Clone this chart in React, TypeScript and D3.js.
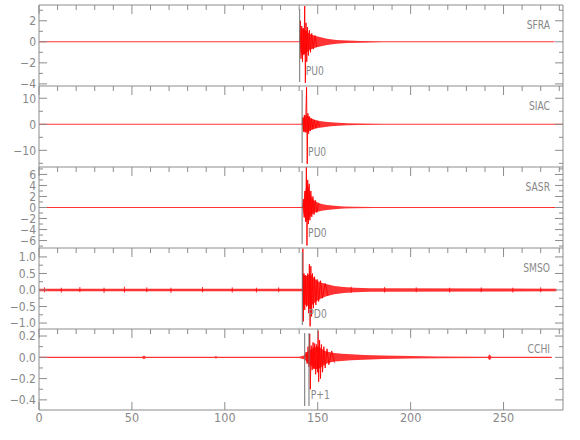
import React from 'react';
import * as d3 from 'd3';

// ---------------- DATA ----------------
const X_MAX = 282;
const xMajorTicks = [0, 50, 100, 150, 200, 250];
const xTickLabels = ['0', '50', '100', '150', '200', '250'];

const stationNames = ['SFRA', 'SIAC', 'SASR', 'SMSO', 'CCHI'];
const phaseLabels = ['PU0', 'PU0', 'PD0', 'PD0', 'P+1'];

// y domains (bottom, top)
const sfraDomain = [-4.2, 3.5];
const siacDomain = [-16.4, 14.7];
const sasrDomain = [-7.35, 7.35];
const smsoDomain = [-1.18, 1.27];
const cchiDomain = [-0.495, 0.266];

// y ticks
const sfraMajor = [-4, -2, 0, 2];
const sfraMinor = [-3, -1, 1, 3];
const sfraLabels = ['\u22124', '\u22122', '0', '2'];
const siacMajor = [-10, 0, 10];
const siacMinor = [-15, -5, 5];
const siacLabels = ['\u221210', '0', '10'];
const sasrMajor = [-6, -4, -2, 0, 2, 4, 6];
const sasrMinor = [-7, -5, -3, -1, 1, 3, 5, 7];
const sasrLabels = ['\u22126', '\u22124', '\u22122', '0', '2', '4', '6'];
const smsoMajor = [-1, -0.5, 0, 0.5, 1];
const smsoMinor = [-0.75, -0.25, 0.25, 0.75];
const smsoLabels = ['\u22121.0', '\u22120.5', '0.0', '0.5', '1.0'];
const cchiMajor = [-0.4, -0.2, 0, 0.2];
const cchiMinor = [-0.3, -0.1, 0.1];
const cchiLabels = ['\u22120.4', '\u22120.2', '0.0', '0.2'];

// phase pick times (s)
const sfraPicks = [140.3];
const siacPicks = [141.6];
const sasrPicks = [141.6];
const smsoPicks = [141.7];
const cchiPicks = [143.0, 145.3];

// envelopes (time, upper, lower)
const sfraEnvT = [0, 140.3, 140.6, 141.5, 142.5, 143.5, 145, 147, 150, 155, 160, 166, 173, 185, 277.4];
const sfraEnvHi = [0.05, 0.05, 0.9, 1.3, 1.2, 1.1, 0.85, 0.65, 0.5, 0.3, 0.18, 0.12, 0.08, 0.05, 0.05];
const sfraEnvLo = [-0.05, -0.05, -0.9, -1.3, -1.2, -1.1, -0.85, -0.65, -0.5, -0.3, -0.18, -0.12, -0.08, -0.05, -0.05];

const siacEnvT = [0, 141.6, 142.0, 143, 144, 145, 146.5, 148.5, 151, 154, 157, 161, 166, 172, 185, 282];
const siacEnvHi = [0.2, 0.2, 2.2, 3.2, 3.5, 3.0, 2.2, 1.7, 1.3, 1.0, 0.75, 0.55, 0.4, 0.28, 0.2, 0.2];
const siacEnvLo = [-0.2, -0.2, -2.2, -2.8, -3.2, -2.8, -2.2, -1.7, -1.3, -1.0, -0.75, -0.55, -0.4, -0.28, -0.2, -0.2];

const sasrEnvT = [0, 141.8, 142.3, 143, 144, 145, 146, 147, 148.5, 150, 152, 155, 159, 164, 170, 180, 282];
const sasrEnvHi = [0.1, 0.1, 1.0, 2.5, 4.0, 3.8, 2.6, 1.7, 1.2, 0.9, 0.65, 0.45, 0.3, 0.2, 0.14, 0.1, 0.1];
const sasrEnvLo = [-0.1, -0.1, -1.0, -1.8, -2.4, -2.2, -1.6, -1.2, -0.9, -0.75, -0.6, -0.45, -0.3, -0.2, -0.14, -0.1, -0.1];

const smsoEnvT = [0, 141.7, 142.0, 143, 144, 145, 146, 147, 148.5, 150, 152, 155, 159, 164, 170, 178, 278.5];
const smsoEnvHi = [0.04, 0.04, 0.5, 0.42, 0.42, 0.45, 0.5, 0.42, 0.33, 0.27, 0.22, 0.17, 0.12, 0.09, 0.07, 0.05, 0.04];
const smsoEnvLo = [-0.04, -0.04, -0.5, -0.45, -0.45, -0.5, -0.6, -0.45, -0.38, -0.32, -0.25, -0.18, -0.13, -0.09, -0.07, -0.05, -0.04];

const cchiEnvT = [0.3, 55.5, 56.5, 57.5, 94.5, 95.2, 96, 140, 143, 144.5, 146, 147.5, 149, 150.5, 152, 154, 156, 159, 163, 168, 175, 185, 200, 215, 241.5, 242.5, 243.5, 276];
const cchiEnvHi = [0.006, 0.006, 0.018, 0.006, 0.006, 0.012, 0.006, 0.006, 0.02, 0.05, 0.07, 0.09, 0.1, 0.1, 0.08, 0.06, 0.05, 0.04, 0.034, 0.028, 0.022, 0.016, 0.012, 0.008, 0.006, 0.028, 0.006, 0.006];
const cchiEnvLo = [-0.006, -0.006, -0.018, -0.006, -0.006, -0.012, -0.006, -0.006, -0.02, -0.05, -0.07, -0.1, -0.11, -0.11, -0.09, -0.065, -0.05, -0.04, -0.034, -0.028, -0.022, -0.016, -0.012, -0.008, -0.006, -0.028, -0.006, -0.006];

// main peaks (time, amplitude)
const sfraPeakT = [140.3, 140.7, 141.0, 141.4, 141.8, 142.2, 142.6, 143.0, 143.35, 143.7, 144.1, 144.5, 145.0, 145.5, 146.1, 146.8, 147.6, 148.5, 149.5];
const sfraPeakV = [0, 2.0, -1.6, 1.5, -1.9, 1.3, -1.2, 3.4, -3.9, 1.8, -1.9, 1.4, -1.3, 1.1, -1.0, 0.8, -0.7, 0.6, -0.5];

const siacPeakT = [141.6, 142.0, 142.4, 142.8, 143.2, 143.6, 144.0, 144.35, 144.7, 145.1, 145.6, 146.1, 146.7, 147.4, 148.2, 149.0, 150.0, 151.2];
const siacPeakV = [0, 2.6, -2.9, 3.6, -3.1, 2.9, 14.2, -15.2, 4.2, -3.6, 3.0, -2.6, 2.2, -1.9, 1.6, -1.4, 1.1, -0.9];

const sasrPeakT = [141.8, 142.3, 142.7, 143.1, 143.5, 143.9, 144.2, 144.6, 145.0, 145.4, 145.8, 146.3, 146.8, 147.4, 148.0, 148.7, 149.5, 150.5];
const sasrPeakV = [0, 1.5, -1.8, 3.0, -2.6, 7.4, -6.9, 5.0, -3.0, 4.3, -2.3, 3.0, -1.7, 2.0, -1.3, 1.3, -0.9, 0.8];

const smsoPeakT = [141.8, 142.0, 142.25, 142.6, 143.0, 143.5, 144.0, 144.6, 145.1, 145.5, 145.9, 146.3, 146.7, 147.2, 147.7, 148.3, 149.0, 149.7, 150.5, 151.5, 152.5, 154.0, 155.5];
const smsoPeakV = [0, 1.25, -0.95, 0.5, -0.6, 0.45, -0.5, 0.5, -0.7, 0.78, -1.1, 0.72, -0.8, 0.5, -0.55, 0.4, -0.45, 0.32, -0.35, 0.28, -0.25, 0.2, -0.18];

const cchiPeakT = [143.0, 143.8, 144.3, 144.8, 145.3, 145.7, 146.0, 146.5, 147.0, 147.5, 148.0, 148.4, 148.9, 149.4, 149.9, 150.2, 150.5, 151.0, 151.5, 152.0, 152.6, 153.3, 154.0, 155.0, 156.0, 157.5, 159.0];
const cchiPeakV = [0, 0.05, -0.06, 0.1, -0.09, 0.22, -0.3, 0.11, -0.12, 0.14, -0.11, 0.13, -0.16, 0.12, -0.14, 0.25, -0.23, 0.16, -0.2, 0.12, -0.14, 0.1, -0.1, 0.08, -0.07, 0.06, -0.05];

// background glitches (time, high, low)
const smsoGlitchT = [3, 12, 22, 35, 46, 58, 71, 88, 104, 117, 129, 168, 186, 203, 221, 238, 255, 270];
const smsoGlitchHi = [0.08, 0.07, 0.09, 0.07, 0.1, 0.08, 0.07, 0.09, 0.08, 0.07, 0.08, 0.1, 0.09, 0.08, 0.07, 0.08, 0.07, 0.08];
const smsoGlitchLo = [-0.07, -0.08, -0.07, -0.09, -0.08, -0.07, -0.09, -0.07, -0.08, -0.08, -0.07, -0.09, -0.08, -0.07, -0.08, -0.07, -0.08, -0.07];

// ---------------- LAYOUT ----------------
const W = 580;
const H = 440;
const LEFT = 39;
const RIGHT = 563;
const TOP = 5;
const PANEL_H = 81;
const AXIS = '#8c8c8c';
const TEXT = '#888888';
const RED = '#ff0000';
const FONT = "'Liberation Sans Narrow', 'DejaVu Sans Condensed', 'Liberation Sans', sans-serif";

type Panel = {
  name: string;
  phase: string;
  domain: number[];
  major: number[];
  minor: number[];
  labels: string[];
  picks: number[];
  envT: number[];
  envHi: number[];
  envLo: number[];
  peakT: number[];
  peakV: number[];
  glT?: number[];
  glHi?: number[];
  glLo?: number[];
};

const panels: Panel[] = [
  { name: stationNames[0], phase: phaseLabels[0], domain: sfraDomain, major: sfraMajor, minor: sfraMinor, labels: sfraLabels, picks: sfraPicks, envT: sfraEnvT, envHi: sfraEnvHi, envLo: sfraEnvLo, peakT: sfraPeakT, peakV: sfraPeakV },
  { name: stationNames[1], phase: phaseLabels[1], domain: siacDomain, major: siacMajor, minor: siacMinor, labels: siacLabels, picks: siacPicks, envT: siacEnvT, envHi: siacEnvHi, envLo: siacEnvLo, peakT: siacPeakT, peakV: siacPeakV },
  { name: stationNames[2], phase: phaseLabels[2], domain: sasrDomain, major: sasrMajor, minor: sasrMinor, labels: sasrLabels, picks: sasrPicks, envT: sasrEnvT, envHi: sasrEnvHi, envLo: sasrEnvLo, peakT: sasrPeakT, peakV: sasrPeakV },
  { name: stationNames[3], phase: phaseLabels[3], domain: smsoDomain, major: smsoMajor, minor: smsoMinor, labels: smsoLabels, picks: smsoPicks, envT: smsoEnvT, envHi: smsoEnvHi, envLo: smsoEnvLo, peakT: smsoPeakT, peakV: smsoPeakV, glT: smsoGlitchT, glHi: smsoGlitchHi, glLo: smsoGlitchLo },
  { name: stationNames[4], phase: phaseLabels[4], domain: cchiDomain, major: cchiMajor, minor: cchiMinor, labels: cchiLabels, picks: cchiPicks, envT: cchiEnvT, envHi: cchiEnvHi, envLo: cchiEnvLo, peakT: cchiPeakT, peakV: cchiPeakV },
];

export default function App() {
  const x = d3.scaleLinear().domain([0, X_MAX]).range([LEFT, RIGHT]);
  const xMinor = d3.range(10, X_MAX, 10).filter((v) => v % 50 !== 0);
  const bottom = TOP + PANEL_H * panels.length;

  return (
    <svg width={W} height={H} style={{ position: 'absolute', left: 0, top: 0, background: '#fff' }}
      fontFamily={FONT}>
      <defs>
        {panels.map((p, i) => (
          <clipPath id={`clip${i}`} key={i}>
            <rect x={LEFT} y={TOP + i * PANEL_H} width={RIGHT - LEFT} height={PANEL_H} />
          </clipPath>
        ))}
      </defs>
      {panels.map((p, i) => {
        const top = TOP + i * PANEL_H;
        const bot = top + PANEL_H;
        const y = d3.scaleLinear().domain(p.domain).range([bot, top]);
        const idx = d3.range(p.envT.length);
        const area = d3.area<number>()
          .x((k) => x(p.envT[k]))
          .y0((k) => y(p.envLo[k]))
          .y1((k) => y(p.envHi[k]));
        const pk = d3.range(p.peakT.length);
        const line = d3.line<number>()
          .x((k) => x(p.peakT[k]))
          .y((k) => y(p.peakV[k]));
        const labelX = x(p.picks[0]) + 6;
        return (
          <g key={i}>
            {/* trace */}
            <g clipPath={`url(#clip${i})`}>
              <path d={area(idx) || ''} fill={RED} fillOpacity={0.8} stroke="none" />
              <path d={line(pk) || ''} fill="none" stroke={RED} strokeWidth={0.9} />
              {p.glT && p.glT.map((t, k) => (
                <line key={k} x1={x(t)} x2={x(t)} y1={y(p.glHi![k])} y2={y(p.glLo![k])} stroke={RED} strokeWidth={0.8} />
              ))}
            </g>
            {/* picks */}
            {p.picks.map((t, k) => (
              <line key={k} x1={x(t)} x2={x(t)} y1={top + 4} y2={bot - 4} stroke="#707070" strokeWidth={1} />
            ))}
            <text x={0} y={0} transform={`translate(${labelX},${top + 70}) scale(0.85,1)`} fontSize={12} fill={TEXT}>{p.phase}</text>
            <text x={0} y={0} transform={`translate(550,${top + 24}) scale(0.85,1)`} fontSize={12} fill={TEXT} textAnchor="end">{p.name}</text>
            {/* frame */}
            <line x1={LEFT} x2={RIGHT} y1={top} y2={top} stroke={AXIS} />
            <line x1={LEFT} x2={LEFT} y1={top} y2={bot} stroke={AXIS} />
            <line x1={RIGHT} x2={RIGHT} y1={top} y2={bot} stroke={AXIS} />
            {/* top ticks */}
            {xMinor.map((t) => (
              <line key={'tm' + t} x1={x(t)} x2={x(t)} y1={top} y2={top + 5} stroke={AXIS} />
            ))}
            {xMajorTicks.map((t) => (
              <line key={'tM' + t} x1={x(t)} x2={x(t)} y1={top} y2={top + 9} stroke={AXIS} />
            ))}
            {/* y ticks */}
            {p.major.map((v, k) => (
              <g key={'yM' + k}>
                <line x1={LEFT} x2={LEFT + 8} y1={y(v)} y2={y(v)} stroke={AXIS} />
                <line x1={RIGHT - 8} x2={RIGHT} y1={y(v)} y2={y(v)} stroke={AXIS} />
                <text x={36} y={y(v) + 4.3} fontSize={12} fill={TEXT} textAnchor="end">{p.labels[k]}</text>
              </g>
            ))}
            {p.minor.filter((v) => v > p.domain[0] && v < p.domain[1]).map((v, k) => (
              <g key={'ym' + k}>
                <line x1={LEFT} x2={LEFT + 4} y1={y(v)} y2={y(v)} stroke={AXIS} />
                <line x1={RIGHT - 4} x2={RIGHT} y1={y(v)} y2={y(v)} stroke={AXIS} />
              </g>
            ))}
          </g>
        );
      })}
      {/* bottom axis */}
      <line x1={LEFT} x2={RIGHT} y1={bottom} y2={bottom} stroke={AXIS} />
      {xMajorTicks.map((t, k) => (
        <g key={'b' + t}>
          <line x1={x(t)} x2={x(t)} y1={bottom - 8} y2={bottom} stroke={AXIS} />
          <text x={x(t)} y={bottom + 12} fontSize={12.5} fill={TEXT} textAnchor="middle">{xTickLabels[k]}</text>
        </g>
      ))}
    </svg>
  );
}
